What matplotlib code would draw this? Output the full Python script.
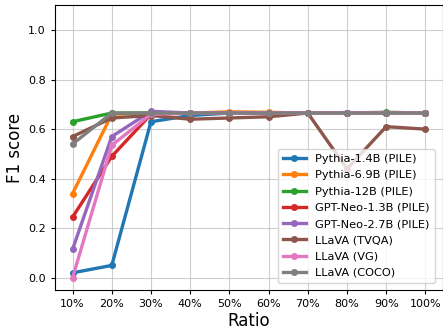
import matplotlib
matplotlib.use("Agg")
import matplotlib.pyplot as plt

ratios = ["10%", "20%", "30%", "40%", "50%", "60%", "70%", "80%", "90%", "100%"]

pythia_1_4b = [0.02, 0.05, 0.63, 0.655, 0.665, 0.665, 0.665, 0.667, 0.665, 0.665]
pythia_6_9b = [0.34, 0.66, 0.665, 0.665, 0.670, 0.668, 0.665, 0.665, 0.665, 0.665]
pythia_12b = [0.63, 0.665, 0.665, 0.665, 0.665, 0.665, 0.665, 0.665, 0.668, 0.665]
gpt_neo_1_3b = [0.245, 0.49, 0.66, 0.665, 0.665, 0.665, 0.665, 0.665, 0.665, 0.665]
gpt_neo_2_7b = [0.115, 0.57, 0.672, 0.665, 0.665, 0.665, 0.665, 0.665, 0.665, 0.665]
llava_tvqa = [0.57, 0.645, 0.655, 0.64, 0.645, 0.65, 0.665, 0.44, 0.61, 0.60]
llava_vg = [0.0, 0.535, 0.66, 0.665, 0.665, 0.665, 0.665, 0.665, 0.665, 0.665]
llava_coco = [0.54, 0.665, 0.665, 0.665, 0.665, 0.665, 0.665, 0.665, 0.665, 0.665]

series = [
    ("Pythia-1.4B (PILE)", pythia_1_4b),
    ("Pythia-6.9B (PILE)", pythia_6_9b),
    ("Pythia-12B (PILE)", pythia_12b),
    ("GPT-Neo-1.3B (PILE)", gpt_neo_1_3b),
    ("GPT-Neo-2.7B (PILE)", gpt_neo_2_7b),
    ("LLaVA (TVQA)", llava_tvqa),
    ("LLaVA (VG)", llava_vg),
    ("LLaVA (COCO)", llava_coco),
]

fig = plt.figure(figsize=(4.43, 3.29), dpi=100)
ax = fig.add_axes([0.124, 0.118, 0.876, 0.866])

x = list(range(len(ratios)))
for name, vals in series:
    ax.plot(x, vals, marker="o", markersize=4, linewidth=2.4, label=name)

ax.set_xticks(x)
ax.set_xticklabels(ratios)
ax.set_ylim(-0.05, 1.1)
ax.set_yticks([0.0, 0.2, 0.4, 0.6, 0.8, 1.0])
ax.tick_params(labelsize=8, length=3)
ax.grid(True, alpha=0.6)
ax.set_xlabel("Ratio", fontsize=12, labelpad=2)
ax.set_ylabel("F1 score", fontsize=12, labelpad=3)
ax.legend(loc="lower right", fontsize=8.2, handlelength=2.0, borderpad=0.45,
          labelspacing=0.55, bbox_to_anchor=(0.993, 0.005))

fig.savefig("out.png", dpi=100)
